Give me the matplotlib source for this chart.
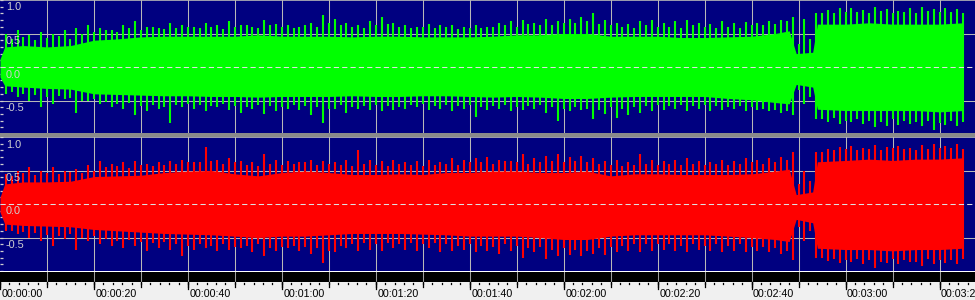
import numpy as np
import matplotlib
matplotlib.use("Agg")
import matplotlib.pyplot as plt
from matplotlib.patches import Rectangle
from matplotlib.ticker import MultipleLocator

# ---------------- data ----------------
body_t = [0, 1, 5, 10, 15, 20, 25, 30, 35, 40, 45, 50, 55, 60, 65, 70, 75, 80, 85, 90,
          95, 100, 105, 110, 115, 120, 125, 130, 135, 140, 145, 150, 155, 160, 165,
          168, 169.5, 173, 174, 180, 185, 190, 195, 200, 205]

green_body_top = [0.12, 0.3, 0.32, 0.3, 0.32, 0.4, 0.42, 0.45, 0.46, 0.46, 0.46, 0.46, 0.48, 0.46,
                  0.46, 0.46, 0.45, 0.46, 0.46, 0.45, 0.45, 0.45, 0.46, 0.48, 0.48, 0.5, 0.5, 0.46,
                  0.46, 0.46, 0.44, 0.44, 0.45, 0.46, 0.5, 0.54, 0.2, 0.22, 0.64, 0.64, 0.66,
                  0.64, 0.64, 0.64, 0.66]
green_body_bot = [-0.15, -0.28, -0.3, -0.32, -0.33, -0.4, -0.41, -0.42, -0.43, -0.43, -0.44,
                  -0.44, -0.45, -0.44, -0.44, -0.44, -0.43, -0.44, -0.44, -0.43, -0.43, -0.44,
                  -0.45, -0.44, -0.45, -0.47, -0.47, -0.45, -0.44, -0.44, -0.44, -0.44, -0.47,
                  -0.49, -0.53, -0.55, -0.26, -0.3, -0.63, -0.65, -0.65, -0.65, -0.65, -0.67,
                  -0.65]
red_body_top = [0.1, 0.3, 0.33, 0.33, 0.34, 0.41, 0.42, 0.43, 0.47, 0.49, 0.5, 0.45, 0.42, 0.47,
                0.49, 0.47, 0.44, 0.44, 0.45, 0.44, 0.47, 0.47, 0.49, 0.49, 0.47, 0.47, 0.49, 0.42,
                0.45, 0.45, 0.44, 0.44, 0.44, 0.45, 0.49, 0.52, 0.14, 0.18, 0.63, 0.65, 0.67,
                0.65, 0.67, 0.67, 0.69]
red_body_bot = [-0.12, -0.3, -0.32, -0.33, -0.34, -0.38, -0.4, -0.42, -0.44, -0.45, -0.46,
                -0.48, -0.5, -0.48, -0.48, -0.46, -0.44, -0.44, -0.44, -0.45, -0.46, -0.48, -0.48,
                -0.48, -0.5, -0.53, -0.53, -0.48, -0.46, -0.46, -0.46, -0.46, -0.48, -0.5,
                -0.53, -0.56, -0.23, -0.28, -0.66, -0.68, -0.68, -0.7, -0.68, -0.68, -0.66]

# main peaks in 2.5 s bins (centres 1.25 s ... 203.75 s)
peak_t = np.arange(82) * 2.5 + 1.25
green_peak_top = [0.5, 0.55, 0.48, 0.52, 0.5, 0.55, 0.58, 0.63,
                  0.58, 0.55, 0.62, 0.68, 0.6, 0.58, 0.65, 0.62,
                  0.6, 0.66, 0.62, 0.68, 0.63, 0.6, 0.7, 0.64,
                  0.62, 0.6, 0.65, 0.78, 0.72, 0.65, 0.62, 0.68,
                  0.75, 0.66, 0.62, 0.6, 0.64, 0.62, 0.63, 0.6,
                  0.62, 0.6, 0.65, 0.68, 0.7, 0.66, 0.72, 0.68,
                  0.72, 0.75, 0.8, 0.7, 0.66, 0.64, 0.68, 0.7,
                  0.66, 0.68, 0.7, 0.66, 0.64, 0.68, 0.65, 0.67,
                  0.66, 0.68, 0.7, 0.75, 0.72, 0.8, 0.85, 0.88,
                  0.88, 0.85, 0.9, 0.86, 0.84, 0.88, 0.9, 0.86,
                  0.88, 0.86]
green_peak_bot = [-0.4, -0.45, -0.5, -0.6, -0.55, -0.48, -0.69, -0.5,
                  -0.55, -0.6, -0.62, -0.72, -0.65, -0.62, -0.84, -0.6,
                  -0.62, -0.65, -0.6, -0.64, -0.68, -0.62, -0.7, -0.65,
                  -0.62, -0.64, -0.72, -0.84, -0.62, -0.68, -0.62, -0.64,
                  -0.66, -0.64, -0.62, -0.6, -0.64, -0.62, -0.66, -0.62,
                  -0.75, -0.64, -0.62, -0.66, -0.64, -0.62, -0.68, -0.8,
                  -0.66, -0.64, -0.78, -0.7, -0.76, -0.72, -0.68, -0.66,
                  -0.64, -0.62, -0.66, -0.63, -0.66, -0.64, -0.62, -0.65,
                  -0.64, -0.66, -0.68, -0.72, -0.55, -0.78, -0.82, -0.85,
                  -0.82, -0.85, -0.9, -0.88, -0.86, -0.85, -0.88, -0.94,
                  -0.86, -0.88]
red_peak_top = [0.45, 0.5, 0.55, 0.5, 0.55, 0.5, 0.52, 0.58,
                0.64, 0.6, 0.62, 0.64, 0.6, 0.62, 0.64, 0.66,
                0.62, 0.85, 0.66, 0.68, 0.64, 0.62, 0.75, 0.66,
                0.64, 0.62, 0.66, 0.64, 0.62, 0.66, 0.8, 0.66,
                0.64, 0.66, 0.62, 0.64, 0.66, 0.62, 0.68, 0.66,
                0.68, 0.7, 0.66, 0.64, 0.75, 0.68, 0.72, 0.75,
                0.7, 0.72, 0.68, 0.64, 0.66, 0.62, 0.75, 0.66,
                0.64, 0.66, 0.68, 0.64, 0.62, 0.66, 0.64, 0.68,
                0.66, 0.68, 0.7, 0.78, 0.5, 0.78, 0.82, 0.85,
                0.86, 0.84, 0.88, 0.85, 0.86, 0.84, 0.88, 0.9,
                0.86, 0.9]
red_peak_bot = [-0.4, -0.45, -0.5, -0.55, -0.62, -0.52, -0.68, -0.55,
                -0.6, -0.62, -0.65, -0.62, -0.7, -0.66, -0.68, -0.78,
                -0.68, -0.66, -0.7, -0.68, -0.66, -0.72, -0.78, -0.7,
                -0.66, -0.7, -0.75, -0.88, -0.72, -0.66, -0.7, -0.68,
                -0.7, -0.66, -0.68, -0.7, -0.66, -0.72, -0.7, -0.68,
                -0.72, -0.7, -0.74, -0.7, -0.8, -0.72, -0.82, -0.78,
                -0.76, -0.78, -0.74, -0.76, -0.72, -0.7, -0.72, -0.7,
                -0.68, -0.7, -0.72, -0.68, -0.7, -0.72, -0.7, -0.72,
                -0.7, -0.72, -0.75, -0.84, -0.55, -0.8, -0.85, -0.88,
                -0.86, -0.9, -0.96, -0.88, -0.9, -0.86, -0.92, -0.9,
                -0.88, -0.9]

# secondary peaks between the main ones (2.5 s ... 205 s)
sub_t = np.arange(1, 83) * 2.5
green_sub_top = [0.42, 0.45, 0.4, 0.44, 0.46, 0.42, 0.5, 0.52,
                 0.55, 0.52, 0.58, 0.55, 0.6, 0.56, 0.58, 0.6,
                 0.58, 0.6, 0.57, 0.6, 0.62, 0.58, 0.62, 0.6,
                 0.58, 0.62, 0.6, 0.66, 0.62, 0.6, 0.58, 0.62,
                 0.64, 0.6, 0.58, 0.6, 0.58, 0.6, 0.57, 0.58,
                 0.58, 0.6, 0.62, 0.6, 0.64, 0.62, 0.62, 0.65,
                 0.66, 0.68, 0.64, 0.62, 0.6, 0.58, 0.62, 0.6,
                 0.6, 0.58, 0.62, 0.6, 0.58, 0.6, 0.58, 0.62,
                 0.62, 0.64, 0.68, 0.35, 0.42, 0.8, 0.8, 0.82,
                 0.82, 0.8, 0.84, 0.8, 0.82, 0.8, 0.84, 0.82,
                 0.82, 0.8]
green_sub_bot = [-0.38, -0.4, -0.42, -0.45, -0.44, -0.46, -0.5, -0.48,
                 -0.52, -0.55, -0.54, -0.58, -0.56, -0.6, -0.56, -0.55,
                 -0.56, -0.58, -0.55, -0.58, -0.6, -0.57, -0.58, -0.6,
                 -0.57, -0.58, -0.6, -0.62, -0.56, -0.6, -0.58, -0.56,
                 -0.58, -0.6, -0.56, -0.55, -0.58, -0.56, -0.58, -0.56,
                 -0.6, -0.58, -0.56, -0.6, -0.58, -0.56, -0.6, -0.62,
                 -0.6, -0.62, -0.64, -0.6, -0.62, -0.6, -0.58, -0.56,
                 -0.58, -0.56, -0.58, -0.56, -0.58, -0.6, -0.58, -0.6,
                 -0.62, -0.64, -0.66, -0.35, -0.45, -0.78, -0.76, -0.8,
                 -0.78, -0.8, -0.82, -0.78, -0.8, -0.82, -0.8, -0.84,
                 -0.8, -0.82]
red_sub_top = [0.42, 0.46, 0.44, 0.46, 0.45, 0.48, 0.46, 0.5,
               0.55, 0.56, 0.54, 0.58, 0.56, 0.58, 0.6, 0.62,
               0.62, 0.64, 0.6, 0.62, 0.58, 0.56, 0.6, 0.58,
               0.6, 0.62, 0.58, 0.6, 0.58, 0.56, 0.6, 0.58,
               0.56, 0.6, 0.58, 0.56, 0.58, 0.6, 0.58, 0.62,
               0.62, 0.6, 0.64, 0.62, 0.6, 0.62, 0.64, 0.62,
               0.64, 0.62, 0.6, 0.58, 0.56, 0.58, 0.6, 0.58,
               0.6, 0.58, 0.6, 0.58, 0.6, 0.58, 0.6, 0.62,
               0.6, 0.62, 0.66, 0.3, 0.35, 0.78, 0.8, 0.82,
               0.8, 0.82, 0.8, 0.84, 0.82, 0.8, 0.82, 0.84,
               0.84, 0.82]
red_sub_bot = [-0.4, -0.42, -0.44, -0.46, -0.48, -0.45, -0.5, -0.48,
               -0.52, -0.55, -0.54, -0.56, -0.58, -0.56, -0.6, -0.62,
               -0.6, -0.62, -0.6, -0.64, -0.62, -0.6, -0.66, -0.64,
               -0.62, -0.64, -0.66, -0.7, -0.62, -0.6, -0.58, -0.6,
               -0.58, -0.6, -0.58, -0.6, -0.58, -0.6, -0.62, -0.6,
               -0.62, -0.64, -0.6, -0.62, -0.66, -0.64, -0.68, -0.66,
               -0.68, -0.7, -0.66, -0.64, -0.62, -0.6, -0.6, -0.6,
               -0.6, -0.62, -0.6, -0.62, -0.6, -0.62, -0.6, -0.64,
               -0.64, -0.66, -0.7, -0.35, -0.4, -0.8, -0.82, -0.84,
               -0.82, -0.84, -0.86, -0.82, -0.84, -0.86, -0.82, -0.84,
               -0.84, -0.82]

y_labels = ["1.0", "0.5", "0.0", "-0.5"]
y_label_vals = [1.0, 0.5, 0.0, -0.5]
time_labels = ["00:00:00", "00:00:20", "00:00:40", "00:01:00", "00:01:20", "00:01:40",
               "00:02:00", "00:02:20", "00:02:40", "00:03:00", "00:03:20"]
time_label_secs = [0, 20, 40, 60, 80, 100, 120, 140, 160, 180, 200]

# ---------------- layout ----------------
W, H = 975, 300
PX_PER_S = 4.6975
XMAX = W / PX_PER_S
NAVY = "#000080"
GRID = "#B8B8B8"
LBL = "#D0D0D0"

fig = plt.figure(figsize=(W / 100, H / 100), dpi=100, facecolor="#F0F0F0")


def fy(px):
    return 1 - px / H


def panel(y0, y1, color, btop, bbot, ptop, pbot, stop, sbot):
    ax = fig.add_axes([0, fy(y1), 1, (y1 - y0) / H])
    ax.set_facecolor(NAVY)
    ax.set_xlim(0, XMAX)
    ax.set_ylim(-1, 1)
    for s in ax.spines.values():
        s.set_visible(False)
    # grid lies behind the waveform
    for t in np.arange(10, XMAX, 10):
        ax.axvline(t, color=GRID, lw=0.75, zorder=1)
    ax.axhline(0.5, color=GRID, lw=0.75, zorder=1)
    ax.axhline(-0.5, color=GRID, lw=0.75, zorder=1)
    ax.axhline(1.0, color=GRID, lw=1.2, zorder=1, clip_on=False)
    ax.fill_between(body_t, bbot, btop, color=color, lw=0, zorder=2)
    ax.vlines(peak_t, 0, ptop, color=color, lw=1.5, zorder=2)
    ax.vlines(peak_t, pbot, 0, color=color, lw=1.5, zorder=2)
    ax.vlines(sub_t, 0, stop, color=color, lw=1.5, zorder=2)
    ax.vlines(sub_t, sbot, 0, color=color, lw=1.5, zorder=2)
    # dashed zero line drawn over the waveform
    ax.axhline(0.0, color="#E0E0E0", lw=0.75, ls=(0, (5, 3)), zorder=4)
    ax.set_xticks([])
    ax.set_yticks([])
    ax.yaxis.set_minor_locator(MultipleLocator(0.1))
    ax.tick_params(axis="y", which="minor", direction="in", length=2.2, width=0.9,
                   color=LBL, left=True, labelleft=False)
    for lab, v in zip(y_labels, y_label_vals):
        ax.annotate(lab, (0, v), xycoords=("axes fraction", "data"),
                    xytext=(6, -2.5), textcoords="offset pixels", ha="left", va="top",
                    color=LBL, fontsize=7.8, family="Liberation Sans", zorder=6)
    return ax


ax1 = panel(0, 134, "#00FF00", green_body_top, green_body_bot, green_peak_top, green_peak_bot,
            green_sub_top, green_sub_bot)
ax2 = panel(137, 271, "#FF0000", red_body_top, red_body_bot, red_peak_top, red_peak_bot,
            red_sub_top, red_sub_bot)

# separator bar between channels
fig.patches.append(Rectangle((0, fy(137.5)), 1, 4 / H, transform=fig.transFigure,
                             facecolor="#8A8A8A", edgecolor="none", zorder=10))

# time ruler
ax3 = fig.add_axes([0, 0, 1, 29 / H])
ax3.set_xlim(0, XMAX)
ax3.set_ylim(29, 0)
ax3.set_facecolor("#F0F0F0")
ax3.axis("off")
ax3.add_patch(Rectangle((0, 0), XMAX, 1.2, facecolor="#FFFFFF", edgecolor="none"))
ax3.add_patch(Rectangle((0, 1.2), XMAX, 10, facecolor="#000000", edgecolor="none"))
for t in np.arange(10, XMAX, 10):
    ax3.plot([t, t], [1.2, 11.2], color="#A0A0A0", lw=0.75)
for t in np.arange(0, XMAX, 2):
    ax3.plot([t, t], [11.5, 13.3], color="#000000", lw=0.9)
for t in np.arange(0, XMAX, 10):
    ax3.plot([t, t], [11.2, 15.5], color="#000000", lw=0.9)
for t in np.arange(0, XMAX, 20):
    ax3.plot([t, t], [11.2, 17.5], color="#000000", lw=0.9)
for lab, s in zip(time_labels, time_label_secs):
    ax3.annotate(lab, (s, 25.6), xycoords="data", xytext=(1.5, 0), textcoords="offset pixels",
                 ha="left", va="baseline", color="#000000", fontsize=7.7,
                 family="Liberation Sans", annotation_clip=False)

fig.savefig("out.png", dpi=100, facecolor=fig.get_facecolor())
